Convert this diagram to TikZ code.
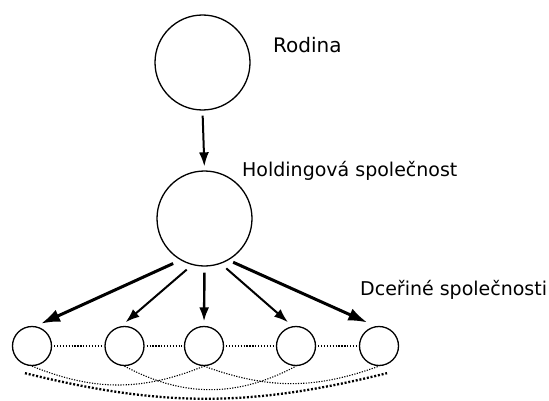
\documentclass[tikz,border=0pt]{standalone}
\usepackage{fontspec}
\setmainfont{DejaVu Sans}
\usetikzlibrary{arrows.meta}
\begin{document}
\begin{tikzpicture}[x=1pt,y=1pt,
  firm/.style={circle,draw,line width=1.3pt,inner sep=0pt,minimum size=95pt},
  sub/.style={circle,draw,line width=1.3pt,inner sep=0pt,minimum size=39pt},
  lbl/.style={anchor=base west,inner sep=0pt,font=\fontsize{19}{22}\selectfont},
  owns/.style={line width=2pt,-{Latex[length=14pt,width=10pt]}},
  ownsbig/.style={line width=3pt,-{Latex[length=19pt,width=13pt]}},
  link/.style={line width=1.2pt,dash pattern=on 1.3pt off 1.6pt},
  crosslink/.style={line width=1.1pt,dash pattern=on 1.2pt off 1.4pt},
  farlink/.style={line width=2.3pt,dash pattern=on 2pt off 1.8pt}]
\useasboundingbox (0,0) rectangle (549,400);

% owners
\node[firm] (family) at (202.5,337.5) {};
\node[firm] (hold) at (204.5,181.5) {};

% subsidiaries
\node[sub] (c1) at (32,54) {};
\node[sub] (c2) at (124.5,54) {};
\node[sub] (c3) at (204,54) {};
\node[sub] (c4) at (296,54) {};
\node[sub] (c5) at (379,54) {};

% labels
\node[lbl,font=\fontsize{20}{22}\selectfont] (tfamily) at (273,347) {Rodina};
\node[lbl] (thold) at (242,224) {Holdingová společnost};
\node[lbl] (tsub) at (360,105) {Dceřiné společnosti};

% ownership
\draw[owns,shorten <=5pt,shorten >=4pt] (family.south) -- (hold.north);
\draw[ownsbig,shorten <=8pt,shorten >=6pt] (hold.240) -- (c1.80);
\draw[owns,shorten <=7pt,shorten >=6pt] (hold.255) -- (c2.100);
\draw[owns,line width=2.4pt,shorten <=6pt,shorten >=4.5pt] (hold.270) -- (c3.90);
\draw[owns,shorten <=7pt,shorten >=6pt] (hold.290) -- (c4.100);
\draw[ownsbig,shorten <=5pt,shorten >=9pt] (hold.300) -- (c5.100);

% ties between neighbours
\draw[link,shorten <=2pt,shorten >=2pt] (c1.east) -- (c2.west);
\draw[link,shorten <=2pt,shorten >=2pt] (c2.east) -- (c3.west);
\draw[link,shorten <=2pt,shorten >=2pt] (c3.east) -- (c4.west);
\draw[link,shorten <=2pt,shorten >=2pt] (c4.east) -- (c5.west);

% ties across the row
\draw[crosslink] (c1.south) to[bend right=22] (c3.south);
\draw[crosslink] (c2.south) to[bend right=28] (c4.south);
\draw[crosslink] (c3.south) to[bend right=20] (c5.south);
\coordinate (far1) at ([shift={(-7,-7)}]c1.south);
\coordinate (far5) at ([shift={(8,-7)}]c5.south);
\draw[farlink] (far1) to[bend right=14] (far5);
\end{tikzpicture}
\end{document}
